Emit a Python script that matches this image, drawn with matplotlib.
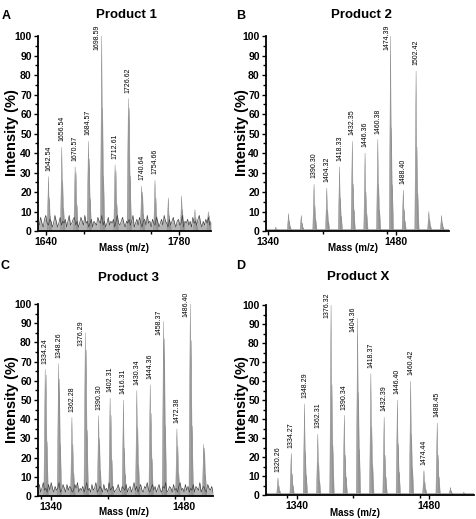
import numpy as np
import matplotlib.pyplot as plt
from matplotlib.ticker import MultipleLocator

plt.rcParams['font.family'] = ['Liberation Sans', 'DejaVu Sans']

# ---- data (m/z, intensity %, second isotope %) ----
a_mz = [1642.54, 1656.54, 1670.57, 1684.57, 1698.59, 1712.61, 1726.62,
        1740.64, 1754.66, 1768.68, 1782.70, 1796.72, 1810.74]
a_h = [28, 43, 33, 46, 100, 34, 68, 23, 26, 17, 18, 11, 10]
a_h2 = [17, 26, 30, 37, 63, 31, 63, 20, 17, 8, 11, 7, 8]
a_labels = ['1642.54', '1656.54', '1670.57', '1684.57', '1698.59',
            '1712.61', '1726.62', '1740.64', '1754.66']
a_noise = [5, 3, 7, 4, 2, 6, 8, 4, 3, 6, 5, 2, 4, 8, 5, 2, 4, 7, 3, 5, 4, 6, 2, 5,
           8, 3, 4, 6, 7, 3, 5, 2, 4, 7, 5, 3, 8, 4, 5, 2, 4, 6, 2, 5, 4, 3, 7, 5,
           4, 8, 3, 5, 2, 4, 7, 3, 5, 4, 6, 2, 5, 8, 4, 3, 5, 7, 4, 2, 5, 4,
           6, 3, 5, 8, 2, 4, 6, 3, 7, 4, 2, 5, 6, 3, 8, 4, 5, 2, 6, 4, 3, 7,
           5, 2, 4, 6, 3, 8, 5, 4, 2, 6, 3, 5, 7, 4, 2, 5, 6, 3, 4, 8, 2, 5,
           4, 6, 3, 5, 2, 7, 4, 5, 3, 6, 8, 4, 2, 5, 3, 6, 4, 7, 3, 5]

b_mz = [1348.28, 1362.30, 1376.30, 1390.30, 1404.32, 1418.33, 1432.35,
        1446.36, 1460.38, 1474.39, 1488.40, 1502.42, 1516.44, 1530.45]
b_h = [2, 9, 8, 24, 22, 33, 46, 40, 47, 100, 21, 82, 10, 8]
b_h2 = [1, 5, 4, 13, 11, 17, 24, 20, 24, 53, 11, 43, 6, 4]
b_labels = ['1390.30', '1404.32', '1418.33', '1432.35', '1446.36',
            '1460.38', '1474.39', '1488.40', '1502.42']

c_mz = [1334.24, 1348.26, 1362.28, 1376.29, 1390.30, 1402.31, 1416.31,
        1430.34, 1444.36, 1458.37, 1472.38, 1486.40, 1500.42]
c_h = [66, 69, 41, 85, 42, 51, 50, 55, 58, 91, 35, 100, 27]
c_h2 = [63, 61, 27, 76, 30, 42, 25, 36, 43, 82, 26, 81, 25]
c_labels = ['1334.24', '1348.26', '1362.28', '1376.29', '1390.30', '1402.31',
            '1416.31', '1430.34', '1444.36', '1458.37', '1472.38', '1486.40']
c_noise = [3, 6, 2, 4, 7, 3, 4, 2, 6, 3, 7, 4, 2, 5, 3, 4, 7, 2, 3, 6, 4, 2, 6, 3,
           5, 4, 2, 3, 6, 4, 7, 2, 4, 3, 5, 2, 4, 7, 3, 4, 2, 6, 3, 4, 7, 2, 3, 5,
           4, 2, 6, 3, 4, 2, 7, 3, 4, 5, 2, 3, 4, 6, 3, 2, 5, 4, 3, 6, 2, 4,
           5, 2, 4, 7, 3, 5, 2, 4, 6, 3, 2, 5, 4, 7, 3, 2, 4, 6, 3, 5, 2, 4,
           6, 3, 2, 5, 4, 7, 2, 3, 5, 4, 2, 6, 3, 4, 2, 5, 7, 3, 4, 2, 6, 3,
           5, 2, 4, 3, 6, 2, 5, 4, 3, 7, 2, 4, 5, 3, 2, 6, 4, 3, 5, 2]

d_mz = [1306.25, 1320.26, 1334.27, 1348.29, 1362.31, 1376.32, 1390.34, 1404.36,
        1418.37, 1432.39, 1446.40, 1460.42, 1474.44, 1488.45, 1502.47, 1516.48]
d_h = [5, 9, 22, 48, 32, 100, 42, 93, 64, 41, 50, 60, 13, 38, 4, 1.5]
d_h2 = [3, 5, 11, 23, 17, 58, 21, 54, 36, 21, 27, 32, 7, 21, 2, 1]
d_labels = ['1320.26', '1334.27', '1348.29', '1362.31', '1376.32', '1390.34',
            '1404.36', '1418.37', '1432.39', '1446.40', '1460.42', '1474.44',
            '1488.45']

W, H = 476, 519
fig = plt.figure(figsize=(W / 100, H / 100), dpi=100)


def axes_px(l, t, r, b):
    return fig.add_axes([l / W, 1 - b / H, (r - l) / W, (b - t) / H])


def text_px(x, y, s, **kw):
    fig.text(x / W, 1 - y / H, s, ha='center', va='center', **kw)


def panel(ax, mz, h, h2, labels, xlim, xticks, noise=None, base=None):
    w = 1.4
    for m, hh, hh2 in zip(mz, h, h2):
        for dm, v in [(2.0, hh2 * 0.45), (1.0, hh2), (0.0, hh)]:
            ax.fill([m + dm - w, m + dm, m + dm + w], [0, v, 0],
                    color='#a2a2a2', ec='#858585', lw=0.3, zorder=2)
        lab = '%.2f' % m
        if lab in labels:
            if hh >= 84:
                ax.text(m - 4.5, hh - 7, lab, rotation=90, ha='center',
                        va='bottom', fontsize=5, clip_on=False, zorder=4)
            else:
                ax.text(m, hh + 3, lab, rotation=90, ha='center',
                        va='bottom', fontsize=5, clip_on=False, zorder=4)
    if noise is not None:
        xs = np.linspace(xlim[0], xlim[1], len(noise))
        ax.fill_between(xs, 0, noise, color='#b4b4b4', lw=0, zorder=1)
        ax.plot(xs, noise, color='#3a3a3a', lw=0.45, zorder=3)
    if base is not None:
        ax.fill_between(xlim, 0, base, color='#b0b0b0', lw=0, zorder=1)
    ax.set_xlim(*xlim)
    ax.set_ylim(0, 100)
    ax.set_xticks(xticks)
    ax.set_xticklabels([str(t) for t in xticks])
    ax.xaxis.set_minor_locator(MultipleLocator(70))
    ax.yaxis.set_major_locator(MultipleLocator(10))
    ax.yaxis.set_minor_locator(MultipleLocator(5))
    for s in ['top', 'right']:
        ax.spines[s].set_visible(False)
    for s in ['left', 'bottom']:
        ax.spines[s].set_linewidth(1.3)
    ax.tick_params(which='both', direction='out', width=1, labelsize=7.5, pad=1.5)
    ax.tick_params(which='major', length=3)
    ax.tick_params(which='minor', length=2)
    for t in ax.get_xticklabels() + ax.get_yticklabels():
        t.set_fontweight('bold')


axA = axes_px(38, 36, 211, 231)
panel(axA, a_mz, a_h, a_h2, a_labels, (1631.5, 1813.6), [1640, 1780], noise=a_noise)
axB = axes_px(266, 36, 449, 231)
panel(axB, b_mz, b_h, b_h2, b_labels, (1337.5, 1538.6), [1340, 1480], base=1.2)
axC = axes_px(38, 304, 213, 496)
panel(axC, c_mz, c_h, c_h2, c_labels, (1326.7, 1510.2), [1340, 1480], noise=c_noise)
axD = axes_px(266, 305, 474, 495)
panel(axD, d_mz, d_h, d_h2, d_labels, (1307.6, 1527.3), [1340, 1480], base=1.2)

# titles, panel letters, axis labels
for x, y, s in [(126, 15, 'Product 1'), (361, 15, 'Product 2'),
                (128, 278, 'Product 3'), (358, 277, 'Product X')]:
    text_px(x, y, s, fontsize=9.5, fontweight='bold')
for x, y, s in [(6, 16, 'A'), (241, 16, 'B'), (5, 266, 'C'), (241, 266, 'D')]:
    text_px(x, y, s, fontsize=9, fontweight='bold')
for x, y in [(12, 133), (242, 133), (12, 400), (242, 400)]:
    text_px(x, y, 'Intensity (%)', fontsize=10.5, fontweight='bold', rotation=90)
for x, y in [(124, 248), (353, 248), (124, 512), (355, 513)]:
    text_px(x, y, 'Mass (m/z)', fontsize=7, fontweight='bold')

fig.savefig('out.png', dpi=100)
